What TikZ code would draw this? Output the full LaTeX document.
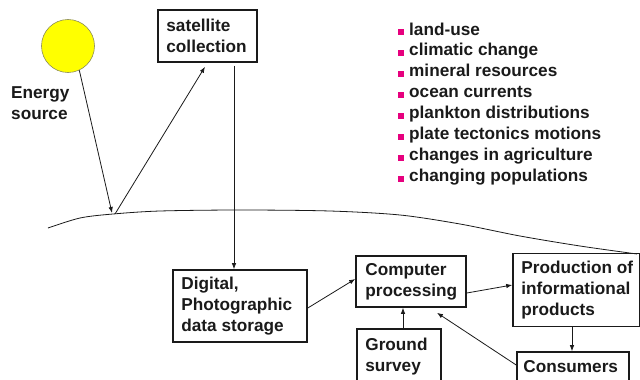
\documentclass[tikz,border=0pt]{standalone}
\usepackage{fontspec}
\setmainfont{Liberation Sans}
\usetikzlibrary{arrows.meta}
\definecolor{sunfill}{HTML}{FFFF00}
\definecolor{sunline}{HTML}{8C8C5A}
\definecolor{bulletc}{HTML}{E6007E}
\definecolor{ink}{HTML}{1A1A1A}
\begin{document}
\begin{tikzpicture}[x=1pt,y=-1pt,
  txt/.style={font=\fontsize{17.2}{21}\selectfont\bfseries, text=ink, inner sep=0pt},
  boxshape/.style={draw=ink, line width=1.6pt, rectangle, inner sep=0pt},
  arr/.style={draw=ink, line width=0.8pt, -{Latex[length=6pt,width=4.5pt]}},
  ln/.style={draw=ink, line width=0.8pt},
  bul/.style={fill=bulletc, minimum size=6pt, inner sep=0pt, rectangle}]
\useasboundingbox (0,0) rectangle (640,380);
\fill[white] (0,0) rectangle (640,380);

% sun and label
\node[circle, fill=sunfill, draw=sunline, line width=0.6pt, minimum size=53pt, inner sep=0pt] (sun) at (68,46) {};
\node[txt, align=left, anchor=north west] (energy) at (11,86.7) {Energy\\source};

% boxes
\node[boxshape, minimum width=99pt, minimum height=52pt] (sat) at (207.5,36) {};
\node[txt, align=left, anchor=west] (satl) at ([xshift=9pt]sat.west) {satellite\\collection};

\node[boxshape, minimum width=134pt, minimum height=72pt] (dig) at (240,306) {};
\node[txt, align=left, anchor=west] (digl) at ([xshift=9pt]dig.west) {Digital,\\Photographic\\data storage};

\node[boxshape, minimum width=110pt, minimum height=51pt] (comp) at (411,281.5) {};
\node[txt, align=left, anchor=west] (compl) at ([xshift=10pt]comp.west) {Computer\\processing};

\node[boxshape, minimum width=127pt, minimum height=73pt] (prod) at (576.5,290) {};
\node[txt, align=left, anchor=west] (prodl) at ([xshift=9pt]prod.west) {Production of\\informational\\products};

\node[boxshape, minimum width=84pt, minimum height=56pt] (ground) at (399,357) {};
\node[txt, align=left, anchor=west] (groundl) at ([xshift=9pt]ground.west) {Ground\\survey};

\node[boxshape, minimum width=112pt, minimum height=30pt] (cons) at (573,367) {};
\node[txt, align=left, anchor=west] (consl) at ([xshift=7pt]cons.west) {Consumers};

% earth surface
\draw[ln] plot[smooth] coordinates {(48,228) (80,218) (113,214) (160,211) (240,210) (330,211) (400,215) (460,224) (520,236) (580,246) (637,254)};
\coordinate (hit) at (112,213);
\coordinate (refl) at (115,214);

% connectors
\draw[arr] (sun.-65) -- (hit);
\draw[arr] (refl) -- ([xshift=-2.5pt,yshift=-4pt]sat.south);
\coordinate (vtop) at ([xshift=26.5pt,yshift=-3pt]sat.south);
\draw[arr] (vtop) -- (vtop |- dig.north);
\draw[arr] ([yshift=-2pt]dig.east) -- ([yshift=2.5pt]comp.west);
\draw[arr] ([yshift=-11.5pt]comp.east) -- ([yshift=5pt]prod.west);
\draw[arr] ([xshift=4pt]ground.north) -- ([xshift=4pt]ground.north |- comp.south);
\draw[arr] ([yshift=2pt]cons.west) -- ([xshift=26pt,yshift=-5pt]comp.south);
\draw[arr] ([xshift=-4.5pt]prod.south) -- ([xshift=-4.5pt]prod.south |- cons.north);

% bullet list
\foreach \t [count=\i] in {land-use, climatic change, mineral resources, ocean currents, plankton distributions, plate tectonics motions, changes in agriculture, changing populations}{
  \node[bul] (b\i) at (401, {32+20.95*(\i-1)}) {};
  \node[txt, anchor=base west] (l\i) at (409, {35+20.95*(\i-1)}) {\t};
}
\end{tikzpicture}
\end{document}
